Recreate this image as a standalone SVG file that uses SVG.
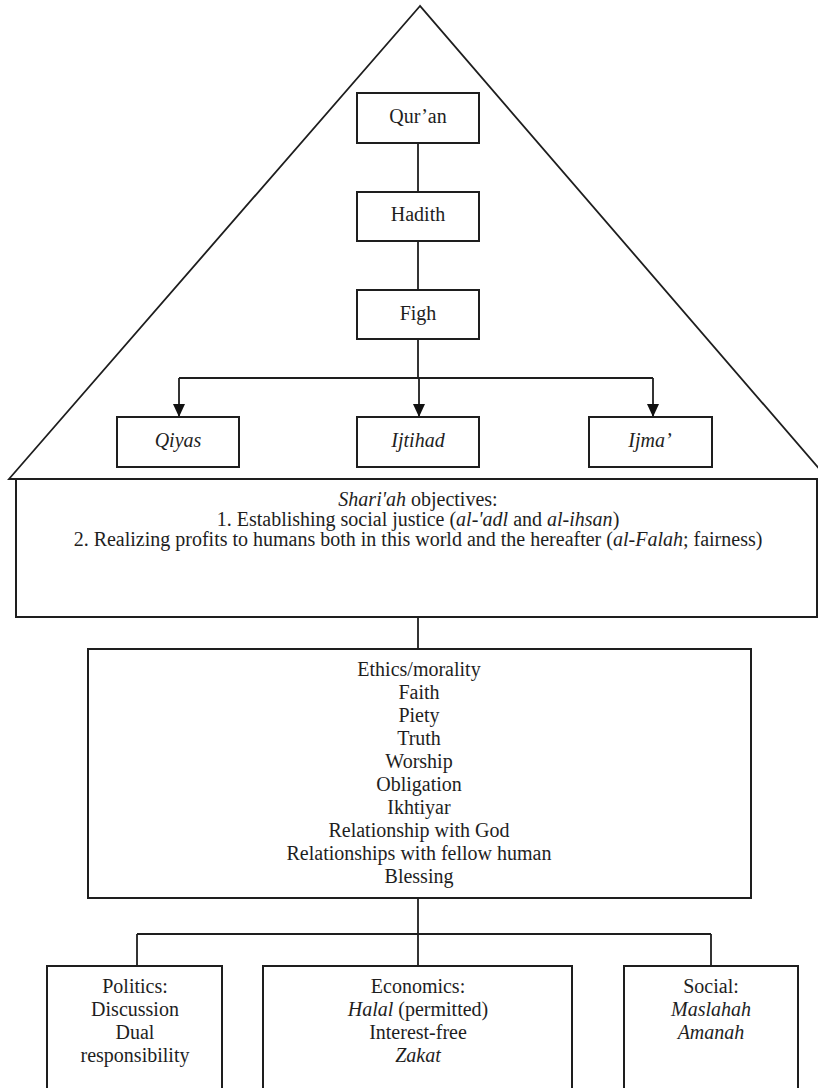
<svg xmlns="http://www.w3.org/2000/svg" width="818" height="1088" viewBox="0 0 818 1088">
<defs>
<style>
.b{fill:#fff;stroke:#1e1e1e;stroke-width:2}
.ln{fill:none;stroke:#1e1e1e;stroke-width:1.8}
.t{font-family:'Liberation Serif','Times New Roman',Times,serif;font-size:20px;fill:#1e1e1e;text-anchor:middle}
.i{font-style:italic}
</style>
<marker id="ah" viewBox="0 0 13 12" refX="13" refY="6" markerWidth="13" markerHeight="12" markerUnits="userSpaceOnUse" orient="auto">
<path d="M0,0 L13,6 L0,12 Z" fill="#111"/>
</marker>
</defs>
<rect width="818" height="1088" fill="#fff"/>
<g id="pyramid">
<polygon points="420,6 9,479 828,479" fill="none" stroke="#1e1e1e" stroke-width="1.8"/>
</g>
<g id="connectors">
<line class="ln" x1="418" y1="143" x2="418" y2="192"/>
<line class="ln" x1="418" y1="241" x2="418" y2="290"/>
<line class="ln" x1="418" y1="339" x2="418" y2="378"/>
<line class="ln" x1="179" y1="378" x2="653" y2="378"/>
<path class="ln" d="M179,378 V417" marker-end="url(#ah)"/>
<path class="ln" d="M419,378 V417" marker-end="url(#ah)"/>
<path class="ln" d="M653,378 V417" marker-end="url(#ah)"/>
<line class="ln" x1="418" y1="617" x2="418" y2="649"/>
<line class="ln" x1="418" y1="898" x2="418" y2="966"/>
<line class="ln" x1="137" y1="934" x2="711" y2="934"/>
<line class="ln" x1="137" y1="934" x2="137" y2="966"/>
<line class="ln" x1="711" y1="934" x2="711" y2="966"/>
</g>
<g font-family="Liberation Serif, Times New Roman, serif">
<g id="quran">
<rect class="b" x="357" y="93" width="122" height="50"/>
<text class="t" x="418" y="123">Qur’an</text>
</g>
<g id="hadith">
<rect class="b" x="357" y="192" width="122" height="49"/>
<text class="t" x="418" y="221">Hadith</text>
</g>
<g id="figh">
<rect class="b" x="357" y="290" width="122" height="49"/>
<text class="t" x="418" y="320">Figh</text>
</g>
<g id="qiyas">
<rect class="b" x="117" y="417" width="122" height="50"/>
<text class="t i" x="178" y="447">Qiyas</text>
</g>
<g id="ijtihad">
<rect class="b" x="357" y="417" width="122" height="50"/>
<text class="t i" x="418" y="447">Ijtihad</text>
</g>
<g id="ijma">
<rect class="b" x="589" y="417" width="123" height="50"/>
<text class="t i" x="650" y="447">Ijma’</text>
</g>
<g id="shariah">
<rect class="b" x="16" y="479" width="801" height="138"/>
<line x1="9" y1="479" x2="818" y2="479" stroke="#1e1e1e" stroke-width="2"/>
<text class="t" x="418" y="506"><tspan class="i">Shari'ah</tspan> objectives:</text>
<text class="t" x="418" y="526">1. Establishing social justice (<tspan class="i">al-'adl</tspan> and <tspan class="i">al-ihsan</tspan>)</text>
<text class="t" x="418" y="546">2. Realizing profits to humans both in this world and the hereafter (<tspan class="i">al-Falah</tspan>; fairness)</text>
</g>
<g id="ethics">
<rect class="b" x="88" y="649" width="663" height="249"/>
<text class="t" x="419" y="676">Ethics/morality</text>
<text class="t" x="419" y="699">Faith</text>
<text class="t" x="419" y="722">Piety</text>
<text class="t" x="419" y="745">Truth</text>
<text class="t" x="419" y="768">Worship</text>
<text class="t" x="419" y="791">Obligation</text>
<text class="t" x="419" y="814">Ikhtiyar</text>
<text class="t" x="419" y="837">Relationship with God</text>
<text class="t" x="419" y="860">Relationships with fellow human</text>
<text class="t" x="419" y="883">Blessing</text>
</g>
<g id="politics">
<rect class="b" x="47" y="966" width="175" height="130"/>
<text class="t" x="135" y="993">Politics:</text>
<text class="t" x="135" y="1016">Discussion</text>
<text class="t" x="135" y="1039">Dual</text>
<text class="t" x="135" y="1062">responsibility</text>
</g>
<g id="economics">
<rect class="b" x="263" y="966" width="309" height="130"/>
<text class="t" x="418" y="993">Economics:</text>
<text class="t" x="418" y="1016"><tspan class="i">Halal</tspan> (permitted)</text>
<text class="t" x="418" y="1039">Interest-free</text>
<text class="t i" x="418" y="1062">Zakat</text>
</g>
<g id="social">
<rect class="b" x="624" y="966" width="174" height="130"/>
<text class="t" x="711" y="993">Social:</text>
<text class="t i" x="711" y="1016">Maslahah</text>
<text class="t i" x="711" y="1039">Amanah</text>
</g>
</g>
</svg>
